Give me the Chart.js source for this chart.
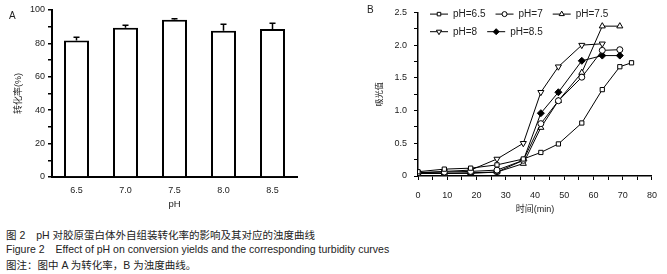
<!DOCTYPE html>
<html>
<head>
<meta charset="utf-8">
<script src="https://cdn.jsdelivr.net/npm/chart.js@4.4.1/dist/chart.umd.min.js"></script>
<style>
  html, body { margin: 0; padding: 0; background: #fff; }
  #wrap { position: relative; width: 667px; height: 274px; overflow: hidden; background: #fff;
    font-family: "Liberation Sans", "Noto Sans CJK SC", sans-serif; color: #222; }
  canvas { position: absolute; top: 0; }
  #chartA { left: 0; }
  #chartB { left: 330px; }
  .panel { position: absolute; font-size: 10px; }
  .cap { position: absolute; left: 6px; font-size: 10.5px; line-height: 14px; white-space: nowrap; }
  .cap .gap { display: inline-block; width: 11px; }
</style>
</head>
<body>
<div id="wrap">
  <canvas id="chartA" width="330" height="220"></canvas>
  <canvas id="chartB" width="337" height="220"></canvas>
  <div class="panel" style="left:9px;top:10px;">A</div>
  <div class="panel" style="left:367px;top:4px;">B</div>
  <div class="cap" style="top:228px;">图 2<span class="gap"></span>pH 对胶原蛋白体外自组装转化率的影响及其对应的浊度曲线</div>
  <div class="cap" style="top:242px;">Figure 2<span class="gap"></span>Effect of pH on conversion yields and the corresponding turbidity curves</div>
  <div class="cap" style="top:258px;">图注：图中 A 为转化率，B 为浊度曲线。</div>
</div>
<script>
// Panel A: conversion yield vs pH
const phLabels = ['6.5', '7.0', '7.5', '8.0', '8.5'];
const conversion = [81.7, 89.4, 94.2, 87.6, 88.6];
const conversionErr = [2.0, 1.4, 0.6, 3.8, 3.4];

// Panel B: turbidity curves (time in min, absorbance)
const times65 = [0, 9, 18, 27, 36, 42, 48, 56, 63, 69, 73];
const abs65 = [0.065, 0.105, 0.12, 0.17, 0.26, 0.36, 0.49, 0.81, 1.32, 1.67, 1.73];
const times7 = [0, 9, 18, 27, 36, 42, 48, 56, 63, 69];
const abs7 = [0.05, 0.06, 0.07, 0.09, 0.24, 0.80, 1.15, 1.51, 1.92, 1.93];
const times75 = [0, 9, 18, 27, 36, 42, 48, 56, 63, 69];
const abs75 = [0.04, 0.04, 0.05, 0.06, 0.19, 0.74, 1.15, 1.58, 2.29, 2.29];
const times8 = [0, 9, 18, 27, 36, 42, 48, 56, 63];
const abs8 = [0.05, 0.07, 0.09, 0.26, 0.50, 1.28, 1.67, 2.00, 2.02];
const times85 = [0, 9, 18, 27, 36, 42, 48, 56, 63, 69];
const abs85 = [0.04, 0.04, 0.04, 0.06, 0.24, 0.96, 1.28, 1.76, 1.84, 1.84];

const seriesNames = ['pH=6.5', 'pH=7', 'pH=7.5', 'pH=8', 'pH=8.5'];

const latin = '"Liberation Sans", "Noto Sans CJK SC", sans-serif';
const textColor = '#222';

function toPoints(xs, ys) {
  return xs.map((x, i) => ({ x: x, y: ys[i] }));
}

// error bars above the bars
const errorBars = {
  id: 'errorBars',
  afterDatasetsDraw(chart) {
    const ctx = chart.ctx;
    const yScale = chart.scales.y;
    const meta = chart.getDatasetMeta(0);
    ctx.save();
    ctx.strokeStyle = '#000';
    ctx.lineWidth = 1.5;
    meta.data.forEach((bar, i) => {
      const yTop = yScale.getPixelForValue(conversion[i] + conversionErr[i]);
      ctx.beginPath();
      ctx.moveTo(bar.x, bar.y);
      ctx.lineTo(bar.x, yTop);
      ctx.moveTo(bar.x - 3, yTop);
      ctx.lineTo(bar.x + 3, yTop);
      ctx.stroke();
    });
    ctx.restore();
  }
};

new Chart(document.getElementById('chartA'), {
  type: 'bar',
  data: {
    labels: phLabels,
    datasets: [{
      data: conversion,
      backgroundColor: '#fff',
      borderColor: '#000',
      borderWidth: 2,
      categoryPercentage: 1,
      barPercentage: 0.51
    }]
  },
  options: {
    responsive: false,
    animation: false,
    devicePixelRatio: 1,
    layout: { padding: { top: 10, right: 33, left: 0, bottom: 0 } },
    plugins: { legend: { display: false }, tooltip: { enabled: false } },
    scales: {
      x: {
        grid: { display: false },
        border: { color: '#000', width: 2 },
        ticks: { color: textColor, padding: 0, font: { family: latin, size: 9 } },
        title: { display: true, text: 'pH', color: textColor, padding: { top: 0, bottom: 10 }, font: { family: latin, size: 9.5 } },
        afterFit(scale) { scale.height = 43; }
      },
      y: {
        min: 0,
        max: 100,
        grid: { drawOnChartArea: false, tickLength: 4, color: '#000', lineWidth: 1.5 },
        border: { color: '#000', width: 2 },
        ticks: {
          stepSize: 10,
          color: textColor,
          padding: 3,
          font: { family: latin, size: 9 },
          callback: v => (v % 20 === 0 ? String(v) : '')
        },
        title: { display: true, text: '转化率(%)', color: textColor, padding: { top: 13, bottom: 0 }, font: { family: latin, size: 9 } },
        afterFit(scale) { scale.width = 52; }
      }
    }
  },
  plugins: [errorBars]
});

// marker styles per series
const markerStyles = [
  { pointStyle: 'rect', rotation: 0, radius: 3, fill: '#fff' },
  { pointStyle: 'circle', rotation: 0, radius: 3, fill: '#fff' },
  { pointStyle: 'triangle', rotation: 0, radius: 3.5, fill: '#fff' },
  { pointStyle: 'triangle', rotation: 180, radius: 3.5, fill: '#fff' },
  { pointStyle: 'rectRot', rotation: 0, radius: 3.5, fill: '#000' }
];

// legend drawn inside the plot, two rows like the original
const insideLegend = {
  id: 'insideLegend',
  afterDraw(chart) {
    const ctx = chart.ctx;
    const area = chart.chartArea;
    const rows = [[0, 1, 2], [3, 4]];
    const rowY = [area.top + 1.7, area.top + 19.3];
    ctx.save();
    ctx.font = '10px ' + latin;
    ctx.textBaseline = 'middle';
    rows.forEach((row, r) => {
      let x = area.left + 12;
      const y = rowY[r];
      row.forEach(idx => {
        const m = markerStyles[idx];
        ctx.strokeStyle = '#000';
        ctx.lineWidth = 1;
        ctx.beginPath();
        ctx.moveTo(x, y);
        ctx.lineTo(x + 18, y);
        ctx.stroke();
        ctx.fillStyle = m.fill;
        Chart.helpers.drawPoint(ctx, { pointStyle: m.pointStyle, rotation: m.rotation, radius: m.radius - 0.5, borderWidth: 1 }, x + 9, y);
        ctx.fillStyle = textColor;
        ctx.fillText(seriesNames[idx], x + 23, y + 0.5);
        x += 23 + ctx.measureText(seriesNames[idx]).width + 10;
      });
    });
    ctx.restore();
  }
};

const seriesData = [
  toPoints(times65, abs65),
  toPoints(times7, abs7),
  toPoints(times75, abs75),
  toPoints(times8, abs8),
  toPoints(times85, abs85)
];

new Chart(document.getElementById('chartB'), {
  type: 'line',
  data: {
    datasets: seriesData.map((pts, i) => ({
      label: seriesNames[i],
      data: pts,
      borderColor: '#000',
      borderWidth: 1,
      tension: 0,
      fill: false,
      pointStyle: markerStyles[i].pointStyle,
      rotation: markerStyles[i].rotation,
      pointRadius: markerStyles[i].radius,
      pointBackgroundColor: markerStyles[i].fill,
      pointBorderColor: '#000',
      pointBorderWidth: 1
    }))
  },
  options: {
    responsive: false,
    animation: false,
    devicePixelRatio: 1,
    layout: { padding: { top: 10, right: 10, left: 0, bottom: 0 } },
    plugins: { legend: { display: false }, tooltip: { enabled: false } },
    scales: {
      x: {
        type: 'linear',
        min: 0,
        max: 80,
        grid: { drawOnChartArea: false, tickLength: 4, color: '#000' },
        border: { color: '#000', width: 1.5 },
        ticks: {
          stepSize: 5,
          color: textColor,
          padding: 10,
          maxRotation: 0,
          autoSkip: false,
          font: { family: latin, size: 9 },
          callback: v => (v % 10 === 0 ? String(v) : '')
        },
        title: { display: true, text: '时间(min)', color: textColor, padding: { top: 0, bottom: 5 }, font: { family: latin, size: 9 } },
        afterFit(scale) { scale.height = 44; }
      },
      y: {
        min: 0,
        max: 2.5,
        grid: { drawOnChartArea: false, tickLength: 4, color: '#000' },
        border: { color: '#000', width: 1.5 },
        ticks: {
          stepSize: 0.25,
          color: textColor,
          padding: 7,
          autoSkip: false,
          font: { family: latin, size: 9 },
          callback: v => {
            if (Math.abs(v * 2 - Math.round(v * 2)) > 1e-6) return '';
            return v === 0 ? '0' : v.toFixed(1);
          }
        },
        title: { display: true, text: '吸光值', color: textColor, padding: { top: 45, bottom: 0 }, font: { family: latin, size: 8 } },
        afterFit(scale) { scale.width = 88; }
      }
    }
  },
  plugins: [insideLegend]
});
</script>
</body>
</html>
